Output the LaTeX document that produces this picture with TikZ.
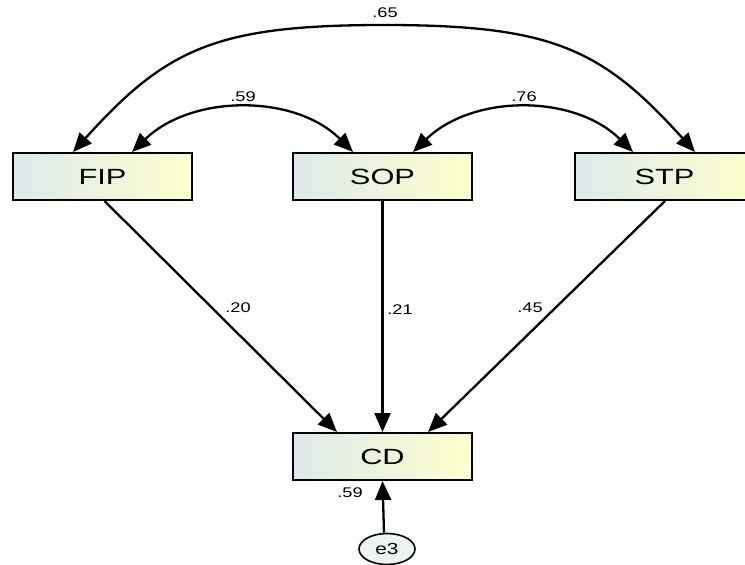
\documentclass[tikz,border=0pt]{standalone}
\usepackage{graphicx}
\usepackage{fontspec}
\setmainfont{Liberation Sans}
\usetikzlibrary{arrows.meta,shapes.geometric}
\definecolor{boxL}{HTML}{DDE9EC}
\definecolor{boxR}{HTML}{FFFFCC}
\definecolor{ellF}{HTML}{EEF3F4}
\tikzset{
  varbox/.style={draw=black, line width=2pt, minimum width=179pt, minimum height=47pt,
    left color=boxL, right color=boxR, inner sep=0pt,
    font=\fontsize{22}{24}\selectfont},
  errnode/.style={draw=black, line width=1.6pt, ellipse, minimum width=56pt, minimum height=31pt,
    fill=ellF, inner sep=0pt, font=\fontsize{16}{18}\selectfont},
  arr/.style={line width=2.3pt, -{Triangle[length=19pt,width=16pt]}},
  darr/.style={line width=2.3pt, {Triangle[length=19pt,width=16pt]}-{Triangle[length=19pt,width=16pt]}},
  lbl/.style={inner sep=0pt, font=\fontsize{14}{16}\selectfont}
}
\newcommand{\wx}[2]{\scalebox{#1}[1]{#2}}
\begin{document}
\begin{tikzpicture}[x=1pt,y=-1pt]
\useasboundingbox (0,0) rectangle (745,565);
\node[varbox] (fip) at (102.5,176.5) {\wx{1.4}{FIP}};
\node[varbox] (sop) at (382.5,176.5) {\wx{1.4}{SOP}};
\node[varbox] (stp) at (664.5,176.5) {\wx{1.4}{STP}};
\node[varbox] (cd) at (382.5,456.5) {\wx{1.4}{CD}};
\node[errnode] (e3) at (387,549) {\wx{1.3}{e3}};
% paths
\draw[arr] ([xshift=2pt]fip.south) -- ([xshift=-45.5pt]cd.north);
\draw[arr] (sop.south) -- (cd.north);
\draw[arr] ([xshift=0.5pt]stp.south) -- ([xshift=45.5pt]cd.north);
\draw[arr] ([xshift=-3pt]e3.north) -- (cd.south);
\node[lbl] (l20) at (238,308) {\wx{1.3}{.20}};
\node[lbl] (l21) at (400,310) {\wx{1.3}{.21}};
\node[lbl] (l45) at (530,308) {\wx{1.3}{.45}};
\node[lbl] (r2) at (350,493) {\wx{1.3}{.59}};
% covariances
\coordinate (top65) at (384,25);
\draw[darr] ([xshift=-29.5pt]fip.north) .. controls (166.7,48) and (217,25) .. (top65)
  .. controls (551,25) and (601.3,48) .. ([xshift=30.5pt]stp.north);
\node[lbl] (c65) at (385,13) {\wx{1.3}{.65}};
\draw[darr] ([xshift=29.5pt]fip.north) .. controls (192,94) and (295,94) .. ([xshift=-29.5pt]sop.north);
\node[lbl] (c59) at (243,97) {\wx{1.3}{.59}};
\draw[darr] ([xshift=30.5pt]sop.north) .. controls (473,94) and (574,94) .. ([xshift=-31.5pt]stp.north);
\node[lbl] (c76) at (524,97) {\wx{1.3}{.76}};
\end{tikzpicture}
\end{document}
